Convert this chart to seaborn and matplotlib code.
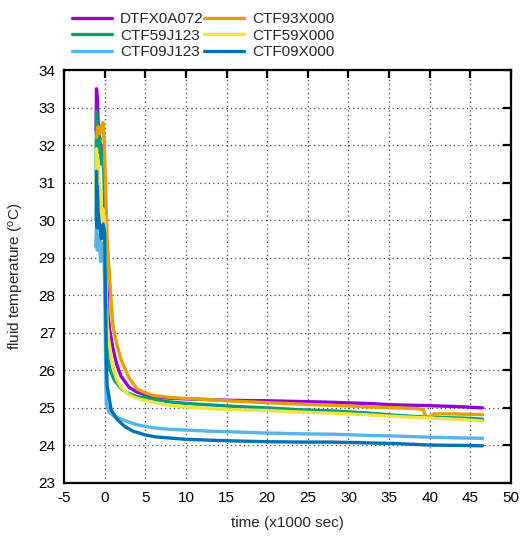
import pandas as pd
import matplotlib
matplotlib.use("Agg")
import matplotlib.pyplot as plt
import seaborn as sns

# Sensor names (legend order) and their line colours
sensors = ["DTFX0A072", "CTF59J123", "CTF09J123", "CTF93X000", "CTF59X000", "CTF09X000"]
colors = ["#9400d3", "#009e73", "#56b4e9", "#e69f00", "#f0e442", "#0072b2"]

# Time (x1000 sec) and fluid temperature (degC) for each sensor
t_dtfx0a072 = [-1.05, -1.0, -0.9, -0.8, -0.6, -0.4, -0.3, -0.1, 0.1, 0.2, 0.4, 0.6, 1.0, 1.5, 2.0,
               3.0, 4.0, 5.0, 6.0, 8.0, 10, 13, 16, 20, 24, 28, 32, 36, 40, 44, 46.5]
T_dtfx0a072 = [32.4, 33.5, 33.2, 32.6, 31.9, 32.0, 31.6, 31.7, 30.5, 29.0, 27.5, 27.1, 26.6, 26.15, 25.85,
               25.55, 25.42, 25.35, 25.3, 25.26, 25.24, 25.22, 25.2, 25.19, 25.17, 25.15, 25.12, 25.08, 25.06, 25.03, 25.0]

t_ctf59j123 = [-1.05, -1.0, -0.9, -0.8, -0.6, -0.4, -0.3, -0.1, 0.1, 0.25, 0.4, 0.7, 1.2, 2.0, 2.8,
               4.0, 5.8, 8.0, 10, 13, 16, 20, 24, 28, 32, 36, 40, 44, 46.5]
T_ctf59j123 = [31.3, 32.9, 32.4, 31.8, 32.2, 31.5, 31.8, 31.3, 29.5, 27.5, 26.3, 26.0, 25.74, 25.52, 25.4,
               25.3, 25.24, 25.16, 25.12, 25.08, 25.04, 25.0, 24.95, 24.92, 24.87, 24.8, 24.75, 24.73, 24.7]

t_ctf09j123 = [-1.1, -1.0, -0.9, -0.7, -0.5, -0.3, -0.1, 0.0, 0.1, 0.2, 0.5, 1.0, 2.0, 3.0,
               4.0, 6.0, 8.0, 10, 13, 16, 20, 24, 28, 32, 36, 40, 44, 46.5]
T_ctf09j123 = [29.3, 29.8, 29.2, 29.6, 28.9, 29.4, 29.1, 28.3, 26.5, 25.1, 24.9, 24.8, 24.7, 24.62,
               24.55, 24.47, 24.43, 24.41, 24.38, 24.36, 24.33, 24.31, 24.3, 24.27, 24.25, 24.22, 24.2, 24.19]

t_ctf93x000 = [-1.0, -0.8, -0.6, -0.4, -0.2, -0.1, 0.1, 0.3, 0.6, 1.0, 1.5, 2.0, 3.0, 4.0, 5.0,
               6.0, 8.0, 10, 13, 16, 20, 24, 28, 32, 36, 38.5, 39.2, 39.5, 40.0, 40.5, 43, 46.5]
T_ctf93x000 = [32.2, 32.5, 32.3, 32.5, 32.6, 32.3, 31.0, 29.5, 28.5, 27.2, 26.7, 26.3, 25.8, 25.5, 25.4,
               25.33, 25.28, 25.25, 25.22, 25.18, 25.14, 25.1, 25.07, 25.03, 25.0, 24.98, 24.95, 24.78, 24.76, 24.84, 24.84, 24.82]

t_ctf59x000 = [-1.05, -1.0, -0.9, -0.8, -0.6, -0.5, -0.4, -0.2, 0.0, 0.15, 0.3, 0.5, 1.0, 1.5, 2.0,
               3.0, 4.0, 5.0, 7.0, 9.6, 13, 16, 20, 24, 28, 32, 36, 40, 44, 46.5]
T_ctf59x000 = [30.5, 31.9, 31.3, 31.6, 30.4, 30.8, 30.0, 30.3, 29.9, 28.5, 27.3, 26.8, 26.1, 25.75, 25.55,
               25.35, 25.25, 25.2, 25.1, 25.03, 24.98, 24.95, 24.93, 24.89, 24.86, 24.82, 24.77, 24.73, 24.69, 24.65]

t_ctf09x000 = [-1.05, -1.0, -0.95, -0.9, -0.8, -0.6, -0.4, -0.2, 0.0, 0.1, 0.2, 0.3, 0.8, 1.5, 2.5,
               3.5, 5.0, 6.2, 9.6, 13, 16, 20, 24, 28, 32, 36, 40, 44, 46.5]
T_ctf09x000 = [30.0, 31.3, 29.8, 30.9, 30.2, 29.8, 29.5, 29.9, 29.7, 28.0, 26.5, 25.6, 24.95, 24.7, 24.5,
               24.38, 24.28, 24.23, 24.17, 24.14, 24.12, 24.1, 24.09, 24.09, 24.07, 24.05, 24.01, 24.0, 23.99]

series = {
    "DTFX0A072": (t_dtfx0a072, T_dtfx0a072),
    "CTF59J123": (t_ctf59j123, T_ctf59j123),
    "CTF09J123": (t_ctf09j123, T_ctf09j123),
    "CTF93X000": (t_ctf93x000, T_ctf93x000),
    "CTF59X000": (t_ctf59x000, T_ctf59x000),
    "CTF09X000": (t_ctf09x000, T_ctf09x000),
}
df = pd.concat(
    [pd.DataFrame({"time": t, "temp": T, "sensor": name}) for name, (t, T) in series.items()],
    ignore_index=True,
)

sns.set_style("white")
plt.rcParams["font.family"] = ["Liberation Sans", "DejaVu Sans"]
plt.rcParams["font.size"] = 11
plt.rcParams["axes.unicode_minus"] = False

fig = plt.figure(figsize=(5.24, 5.37), dpi=100)
ax = fig.add_axes([64 / 524, 1 - 483 / 537, (511 - 64) / 524, (483 - 70) / 537])

sns.lineplot(data=df, x="time", y="temp", hue="sensor", hue_order=sensors,
             palette=dict(zip(sensors, colors)), estimator=None, sort=False,
             linewidth=2.4, ax=ax)

handles, labels = ax.get_legend_handles_labels()
ax.get_legend().remove()
fig.legend(handles, labels, ncol=2, frameon=False, loc="upper left",
           bbox_to_anchor=(72 / 524, 1 - 12 / 537), handlelength=2.65,
           handletextpad=0.5, columnspacing=0.0, labelspacing=0.18,
           borderaxespad=0, borderpad=0, fontsize=11)

ax.set_xlim(-5, 50)
ax.set_ylim(23, 34)
ax.set_xticks(range(-5, 51, 5))
ax.set_yticks(range(23, 35))
ax.grid(True, linestyle=(0, (1, 2.5)), color="#444444", linewidth=0.9)
ax.tick_params(direction="in", length=6, width=1.6, top=True, right=True,
               colors="black", pad=6, labelsize=11)
for sp in ax.spines.values():
    sp.set_visible(True)
    sp.set_color("black")
    sp.set_linewidth(1.6)

ax.set_xlabel("time (x1000 sec)", fontsize=11, labelpad=8)
ax.set_ylabel("fluid temperature ($\\mathregular{^{o}}$C)", fontsize=11, labelpad=9)

fig.savefig("out.png", dpi=100)
